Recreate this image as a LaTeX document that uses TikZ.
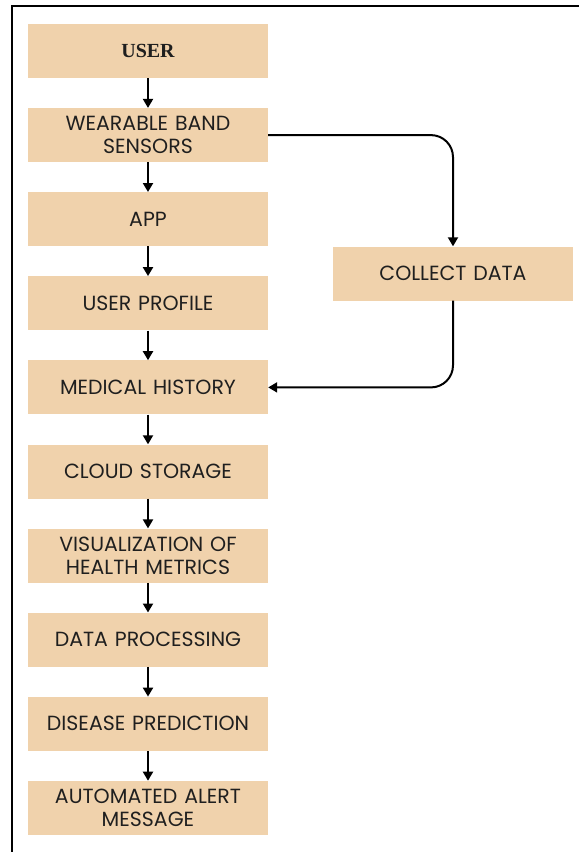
\documentclass[tikz,border=0pt]{standalone}
\usepackage{fontspec}
\setmainfont{Liberation Serif}
\setsansfont{Poppins}
\usetikzlibrary{positioning,arrows.meta}
\definecolor{boxtan}{RGB}{240,210,172}
\tikzset{
    every node/.style={
        font=\sffamily\fontsize{20.5}{23}\selectfont,
        text=black!88
    },
    stepbox/.style={
        shape=rectangle,
        fill=boxtan,
        text width=236pt,
        align=center,
        minimum width=240pt,
        minimum height=54pt,
        inner sep=0pt
    },
    flow/.style={-{Triangle[length=9pt,width=10pt]}, line width=2pt}
}

\begin{document}
\begin{tikzpicture}[x=1pt, y=1pt, node distance=29.7pt]
		\useasboundingbox (0,0) rectangle (579,-852);
		\draw [line width=1.8pt] (12,-852) -- (12,-6) -- (579,-6);
		
		\node (user) at (148, -51) [stepbox, font=\rmfamily\bfseries\fontsize{20}{22}\selectfont] {USER};
		\node (band) [below=of user, stepbox] {WEARABLE BAND\\SENSORS};
		\node (app) [below=of band, stepbox] {APP};
		\node (prof) [below=of app, stepbox] {USER PROFILE};
		\node (med) [below=of prof, stepbox] {MEDICAL HISTORY};
		\node (cloud) [below=of med, stepbox] {CLOUD STORAGE};
		\node (vis) [below=of cloud, stepbox] {VISUALIZATION OF\\HEALTH METRICS};
		\node (proc) [below=of vis, stepbox] {DATA PROCESSING};
		\node (pred) [below=of proc, stepbox] {DISEASE PREDICTION};
		\node (alert) [below=of pred, stepbox] {AUTOMATED ALERT\\MESSAGE};
		
		\node (coll) at (453, -273.5) [stepbox] {COLLECT DATA};
		
		\draw [flow] (user) -- (band);
		\draw [flow] (band) -- (app);
		\draw [flow] (app) -- (prof);
		\draw [flow] (prof) -- (med);
		\draw [flow] (med) -- (cloud);
		\draw [flow] (cloud) -- (vis);
		\draw [flow] (vis) -- (proc);
		\draw [flow] (proc) -- (pred);
		\draw [flow] (pred) -- (alert);
		\draw [flow, rounded corners=22pt] (band.east) -| (coll.north);
		\draw [flow, rounded corners=22pt] (coll.south) |- (med.east);
	\end{tikzpicture}
\end{document}
